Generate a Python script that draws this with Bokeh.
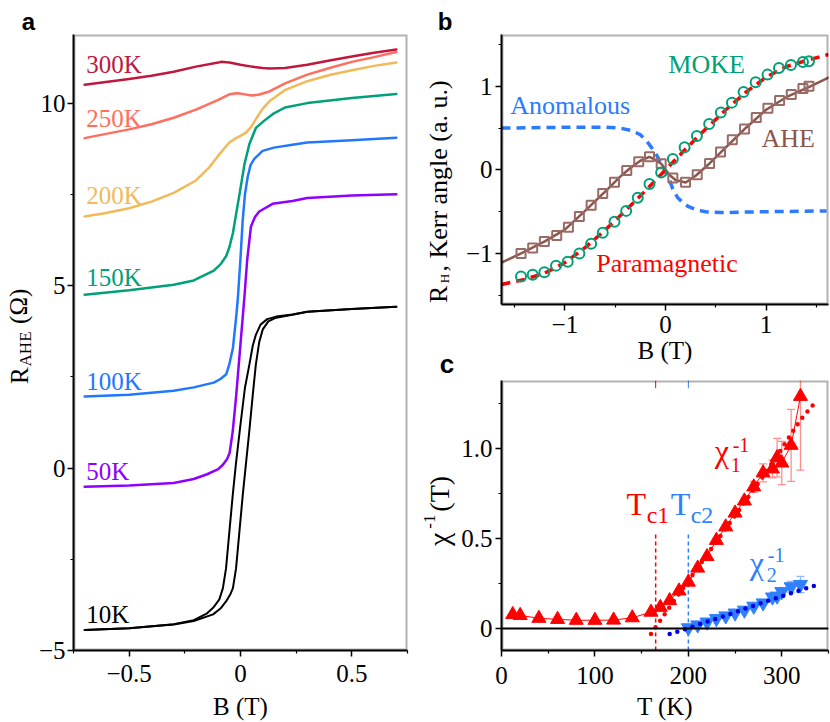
from bokeh.plotting import figure
from bokeh.models import (Label, Span, Whisker, TeeHead, ColumnDataSource, FixedTicker,
                          CustomJSTickFormatter, Range1d, BoxAnnotation)
from bokeh.layouts import row, column
from bokeh.embed import file_html
from bokeh.resources import INLINE

SERIF = "Liberation Serif"
SANS = "Liberation Sans"

# ---------------- panel a data : R_AHE vs B ----------------
B_300 = [-0.70, -0.50, -0.40, -0.30, -0.20, -0.10, -0.088, -0.05, 0.00, 0.05, 0.10, 0.13, 0.20, 0.30, 0.40, 0.50, 0.60, 0.70]
R_300 = [10.50, 10.66, 10.75, 10.86, 11.00, 11.11, 11.13, 11.11, 11.05, 11.00, 10.96, 10.95, 10.96, 11.05, 11.17, 11.28, 11.38, 11.47]
B_250 = [-0.70, -0.61, -0.50, -0.40, -0.30, -0.20, -0.10, -0.05, -0.02, 0.00, 0.05, 0.08, 0.13, 0.20, 0.30, 0.40, 0.50, 0.60, 0.70]
R_250 = [9.04, 9.15, 9.28, 9.42, 9.60, 9.82, 10.09, 10.24, 10.27, 10.26, 10.21, 10.23, 10.32, 10.54, 10.78, 10.96, 11.13, 11.26, 11.40]
B_200 = [-0.70, -0.61, -0.50, -0.40, -0.30, -0.20, -0.14, -0.10, -0.05, -0.02, 0.00, 0.025, 0.05, 0.077, 0.10, 0.13, 0.20, 0.30, 0.40, 0.50, 0.60, 0.70]
R_200 = [6.89, 6.98, 7.12, 7.30, 7.54, 7.88, 8.24, 8.56, 8.92, 9.04, 9.10, 9.19, 9.37, 9.64, 9.85, 10.05, 10.36, 10.60, 10.77, 10.90, 11.02, 11.11]
B_150 = [-0.70, -0.50, -0.30, -0.21, -0.12, -0.09, -0.064, -0.05, -0.034, -0.02, -0.004, 0.018, 0.040, 0.069, 0.107, 0.15, 0.20, 0.30, 0.50, 0.70]
R_150 = [4.75, 4.87, 5.02, 5.14, 5.41, 5.58, 5.81, 6.05, 6.44, 6.95, 7.52, 8.33, 8.88, 9.32, 9.52, 9.72, 9.88, 10.00, 10.14, 10.25]
B_100 = [-0.70, -0.50, -0.30, -0.21, -0.12, -0.09, -0.064, -0.05, -0.034, -0.02, -0.012, 0.000, 0.010, 0.020, 0.032, 0.045, 0.062, 0.099, 0.15, 0.233, 0.30, 0.50, 0.70]
R_100 = [1.96, 2.01, 2.12, 2.21, 2.34, 2.44, 2.57, 2.85, 3.29, 4.10, 4.64, 5.75, 6.80, 7.50, 7.97, 8.30, 8.47, 8.69, 8.78, 8.86, 8.92, 8.98, 9.05]
B_50 = [-0.70, -0.50, -0.30, -0.21, -0.15, -0.10, -0.079, -0.06, -0.049, -0.035, -0.020, 0.000, 0.017, 0.030, 0.047, 0.065, 0.084, 0.144, 0.233, 0.30, 0.50, 0.70]
R_50 = [-0.51, -0.48, -0.41, -0.30, -0.17, -0.03, 0.09, 0.25, 0.41, 1.00, 1.94, 3.40, 4.64, 5.70, 6.62, 6.88, 7.03, 7.24, 7.32, 7.40, 7.47, 7.50]
B_10_up = [-0.70, -0.50, -0.30, -0.21, -0.15, -0.123, -0.095, -0.079, -0.065, -0.05, -0.035, -0.02, 0.00, 0.02, 0.04, 0.055, 0.069, 0.09, 0.12, 0.16, 0.233, 0.30, 0.50, 0.70]
R_10_up = [-4.44, -4.39, -4.28, -4.17, -3.98, -3.83, -3.60, -3.29, -2.75, -1.75, -0.75, 0.15, 1.20, 2.20, 2.84, 3.35, 3.65, 3.93, 4.08, 4.15, 4.21, 4.28, 4.36, 4.42]
B_10_dn = [-0.70, -0.50, -0.30, -0.21, -0.123, -0.09, -0.064, -0.045, -0.034, -0.02, -0.005, 0.01, 0.025, 0.04, 0.055, 0.069, 0.084, 0.10, 0.125, 0.16, 0.233, 0.30, 0.50, 0.70]
R_10_dn = [-4.44, -4.39, -4.29, -4.19, -4.01, -3.85, -3.65, -3.45, -3.29, -2.75, -1.75, -0.75, 0.15, 1.04, 2.00, 2.84, 3.45, 3.80, 4.02, 4.12, 4.20, 4.28, 4.36, 4.42]

a_xticks = [-0.5, 0.0, 0.5]
a_xlabels = ["\u22120.5", "0", "0.5"]
a_xminor = [-0.75, -0.25, 0.25, 0.75]
a_yticks = [-5, 0, 5, 10]
a_ylabels = ["\u22125", "0", "5", "10"]
a_yminor = [-2.5, 2.5, 7.5]

# ---------------- panel b data ----------------
moke_B = [-1.436, -1.32, -1.204, -1.088, -0.972, -0.856, -0.739, -0.624, -0.507, -0.391, -0.276, -0.159, -0.043,
          0.073, 0.19, 0.312, 0.434, 0.55, 0.66, 0.776, 0.896, 1.014, 1.128, 1.247, 1.366, 1.426]
moke_y = [-1.274, -1.255, -1.224, -1.145, -1.098, -1.0, -0.882, -0.753, -0.62, -0.49, -0.333, -0.168, -0.03,
          0.13, 0.27, 0.405, 0.549, 0.686, 0.805, 0.933, 1.05, 1.14, 1.22, 1.255, 1.29, 1.30]
ahe_B = [-1.436, -1.32, -1.204, -1.081, -0.965, -0.856, -0.739, -0.624, -0.507, -0.385, -0.266, -0.159, -0.043,
         0.073, 0.199, 0.315, 0.438, 0.547, 0.664, 0.786, 0.902, 1.018, 1.134, 1.25, 1.366, 1.426]
ahe_y = [-1.0, -0.933, -0.855, -0.784, -0.686, -0.557, -0.424, -0.282, -0.149, -0.008, 0.098, 0.157, 0.075,
         -0.098, -0.149, -0.059, 0.078, 0.215, 0.361, 0.49, 0.627, 0.737, 0.831, 0.902, 0.973, 1.0]
ahefit_B = [-1.63, -1.44, -1.2, -1.0, -0.8, -0.6, -0.45, -0.35, -0.25, -0.16, -0.1, -0.04, 0.04, 0.1, 0.2, 0.3, 0.44, 0.6, 0.8, 1.0, 1.2, 1.44, 1.63]
ahefit_y = [-1.11, -1.0, -0.855, -0.715, -0.49, -0.26, -0.08, 0.023, 0.11, 0.155, 0.12, 0.07, -0.06, -0.12, -0.15, -0.07, 0.08, 0.27, 0.505, 0.72, 0.87, 1.0, 1.11]
para_B = [-1.63, -1.4, -1.2, -1.0, -0.8, -0.6, -0.4, -0.2, 0.0, 0.2, 0.4, 0.6, 0.8, 1.0, 1.2, 1.4, 1.62]
para_y = [-1.37, -1.31, -1.235, -1.11, -0.93, -0.72, -0.49, -0.25, 0.0, 0.25, 0.49, 0.72, 0.93, 1.11, 1.235, 1.31, 1.38]
anom_B = [-1.63, -1.0, -0.6, -0.45, -0.33, -0.25, -0.19, -0.14, -0.09, -0.05, -0.01, 0.03, 0.07, 0.12, 0.17, 0.23, 0.31, 0.4, 0.55, 1.0, 1.6]
anom_y = [0.50, 0.51, 0.51, 0.50, 0.47, 0.42, 0.35, 0.27, 0.18, 0.09, 0.0, -0.09, -0.22, -0.33, -0.39, -0.44, -0.48, -0.50, -0.51, -0.50, -0.49]

b_xticks = [-1, 0, 1]
b_xlabels = ["\u22121", "0", "1"]
b_xminor = [-1.5, -0.5, 0.5, 1.5]
b_yticks = [-1, 0, 1]
b_ylabels = ["\u22121", "0", "1"]
b_yminor = [-1.5, -0.5, 0.5, 1.5]

# ---------------- panel c data ----------------
T1 = [12, 20, 40, 60, 80, 100, 120, 140, 160, 170, 180, 190, 200, 210, 220, 230, 240, 250, 260, 270, 280, 290, 295, 300, 310, 320]
chi1 = [0.078, 0.073, 0.057, 0.051, 0.046, 0.046, 0.047, 0.06, 0.091, 0.118, 0.155, 0.209, 0.258, 0.336, 0.40, 0.49,
        0.565, 0.642, 0.709, 0.787, 0.865, 0.887, 0.95, 0.92, 1.018, 1.29]
chi1_err = [0.0, 0.0, 0.0, 0.0, 0.0, 0.0, 0.0, 0.0, 0.005, 0.005, 0.005, 0.008, 0.008, 0.01, 0.01, 0.01,
            0.012, 0.015, 0.02, 0.03, 0.05, 0.05, 0.107, 0.12, 0.20, 0.41]
T2 = [200, 210, 220, 230, 240, 250, 260, 270, 280, 290, 295, 300, 310, 320]
chi2 = [0.004, 0.02, 0.036, 0.055, 0.07, 0.086, 0.102, 0.124, 0.142, 0.175, 0.18, 0.205, 0.232, 0.245]
chi2_err = [0.0, 0.0, 0.0, 0.0, 0.005, 0.005, 0.005, 0.008, 0.01, 0.012, 0.012, 0.015, 0.03, 0.045]
fit1_T = [160, 180, 200, 220, 240, 260, 280, 300, 320, 338]
fit1_v = [-0.03, 0.12, 0.265, 0.41, 0.555, 0.70, 0.845, 1.0, 1.16, 1.27]
fit2_T = [180, 200, 220, 240, 260, 280, 300, 320, 340]
fit2_v = [-0.031, 0.002, 0.038, 0.072, 0.109, 0.145, 0.18, 0.214, 0.245]
Tc1 = 165
Tc2 = 200
tc_line_top = 0.535

c_xticks = [0, 100, 200, 300]
c_xlabels = ["0", "100", "200", "300"]
c_xminor = [50, 150, 250, 350]
c_yticks = [0, 0.5, 1.0]
c_ylabels = ["0", "0.5", "1.0"]
c_yminor = [0.25, 0.75, 1.25]

# colours
C300, C250, C200, C150, C100, C50, C10 = "#c0183c", "#ff6e5e", "#f2b95a", "#00a07a", "#2277ff", "#9000ff", "#000000"
GREEN, BROWN, BLUE_B, RED = "#00a077", "#8c564b", "#2b7bff", "#ff0000"
BLUE_C, DBLUE = "#2f80ff", "#0000e0"

ROT = 1.5707963267948966


def fmt(vals, labs):
    return CustomJSTickFormatter(args=dict(vals=vals, labs=labs), code="""
        for (let i = 0; i < vals.length; i++) {
            if (Math.abs(vals[i] - tick) < 1e-6) { return labs[i]; }
        }
        return "";
    """)


def style(p, xt, xl, xm, yt, yl, ym, xr, yr, xstand, ystand, xlab, xlab_stand):
    p.xgrid.visible = False
    p.ygrid.visible = False
    p.outline_line_color = None
    p.background_fill_color = "white"
    p.border_fill_color = "white"
    p.xaxis.ticker = FixedTicker(ticks=xt, minor_ticks=xm)
    p.yaxis.ticker = FixedTicker(ticks=yt, minor_ticks=ym)
    p.xaxis.formatter = fmt(xt, xl)
    p.yaxis.formatter = fmt(yt, yl)
    for ax in p.axis:
        ax.axis_line_width = 2
        ax.major_tick_out = 6
        ax.major_tick_in = 0
        ax.minor_tick_out = 3
        ax.minor_tick_in = 0
        ax.major_tick_line_width = 1.5
        ax.minor_tick_line_width = 1.2
        ax.major_label_text_font = SERIF
        ax.major_label_text_font_size = "25px"
        ax.major_label_text_color = "black"
    p.xaxis.major_label_standoff = xstand
    p.yaxis.major_label_standoff = ystand
    p.xaxis.axis_label = xlab
    p.xaxis.axis_label_standoff = xlab_stand
    p.xaxis.axis_label_text_font = SERIF
    p.xaxis.axis_label_text_font_size = "25px"
    p.xaxis.axis_label_text_font_style = "normal"
    p.xaxis.axis_label_text_color = "black"
    # closed frame box
    p.add_layout(BoxAnnotation(left=xr[0], right=xr[1], bottom=yr[0], top=yr[1],
                               fill_alpha=0, line_color="black", line_width=4))


def mapper(x0, x1, y0, y1, fl, ft, fw, fh):
    # reference-picture pixel -> data coordinates of a panel
    def f(px, py):
        return x0 + (px - fl) / fw * (x1 - x0), y1 - (py - ft) / fh * (y1 - y0)
    return f


def add_text(p, m, px, py, text, size, color="black", font=SERIF, align="left", angle=0.0, style_="normal"):
    x, y = m(px, py)
    p.add_layout(Label(x=x, y=y, text=text, text_font=font, text_font_size=f"{size}px",
                       text_color=color, text_align=align, text_baseline="middle",
                       angle=angle, text_font_style=style_))


def text_fig(x0, x1, y0, y1, bottom=0):
    # strip whose data coordinates are page pixels (y downwards); frame = [y0, y1]
    p = figure(width=x1 - x0, height=y1 - y0 + bottom, x_range=Range1d(x0, x1), y_range=Range1d(y1, y0),
               output_backend="svg", toolbar_location=None, x_axis_location=None, y_axis_location=None,
               min_border=0, min_border_left=0, min_border_right=0, min_border_top=0, min_border_bottom=bottom)
    p.outline_line_color = None
    p.background_fill_color = "white"
    p.border_fill_color = "white"
    p.xgrid.visible = False
    p.ygrid.visible = False
    return p


page = lambda px, py: (px, py)
TOP = 34          # height of the strip holding the panel letters
BOT = 67          # bottom border of panels a and c
SPLIT = 418       # x where the b/c title strip begins

# ---------- top strip: panel letters a and b ----------
top = text_fig(0, 830, 0, TOP)
add_text(top, page, 28, 20.5, "a", 24, font=SANS, align="center", style_="bold")
add_text(top, page, 444.5, 20.5, "b", 24, font=SANS, align="center", style_="bold")

# ================= panel a =================
ax_r = (-0.75, 0.75)
ay_r = (-5.0, 11.88)
pa = figure(width=SPLIT - 35, height=722 - TOP, x_range=Range1d(*ax_r), y_range=Range1d(*ay_r),
            output_backend="svg", toolbar_location=None,
            min_border_left=34, min_border_right=SPLIT - 35 - 34 - 338, min_border_top=0, min_border_bottom=BOT)
style(pa, a_xticks, a_xlabels, a_xminor, a_yticks, a_ylabels, a_yminor, ax_r, ay_r, 8, 2, "B (T)", 8)
curves = [(B_300, R_300, C300, 2.5), (B_250, R_250, C250, 2.5), (B_200, R_200, C200, 2.5),
          (B_150, R_150, C150, 2.5), (B_100, R_100, C100, 2.5), (B_50, R_50, C50, 2.5),
          (B_10_up, R_10_up, C10, 2.0), (B_10_dn, R_10_dn, C10, 2.0)]
for bx, ry, col, lw in curves:
    pa.line(bx, ry, line_color=col, line_width=lw, line_join="round", line_cap="round")

ma = mapper(ax_r[0], ax_r[1], ay_r[0], ay_r[1], 69, 32, 338, 624)
for txt, py, col in [("300K", 62.5, C300), ("250K", 117, C250), ("200K", 195.5, C200), ("150K", 278.5, C150),
                     ("100K", 383.5, C100), ("50K", 474.5, C50), ("10K", 620, C10)]:
    add_text(pa, ma, 82, py, txt, 25, color=col)

# left strip of panel a: y-axis title
la = text_fig(0, 35, TOP, 722 - BOT, bottom=BOT)
add_text(la, page, 18.5, 378, "R", 25, align="center", angle=ROT)
add_text(la, page, 25.3, 351, "AHE", 17, align="center", angle=ROT)
add_text(la, page, 17.5, 308, "(\u03a9)", 25, align="center", angle=ROT)

# ================= panel b =================
bx_r = (-1.63, 1.62)
by_r = (-1.61, 1.62)
pb = figure(width=372, height=366 - TOP, x_range=Range1d(*bx_r), y_range=Range1d(*by_r),
            output_backend="svg", toolbar_location=None,
            min_border_left=43, min_border_right=2, min_border_top=0, min_border_bottom=59)
style(pb, b_xticks, b_xlabels, b_xminor, b_yticks, b_ylabels, b_yminor, bx_r, by_r, 5, 3, "B (T)", 1)
pb.line(anom_B, anom_y, line_color=BLUE_B, line_width=3.5, line_dash="9 6")
pb.line(ahefit_B, ahefit_y, line_color=BROWN, line_width=2.5, line_join="round")
pb.scatter(ahe_B, ahe_y, marker="square", size=9, fill_color=None, line_color="#9a6a66", line_width=2)
pb.line(para_B, para_y, line_color=RED, line_width=3.5, line_dash="9 6")
pb.scatter(moke_B, moke_y, marker="circle", size=10, fill_color=None, line_color=GREEN, line_width=2)

mb = mapper(bx_r[0], bx_r[1], by_r[0], by_r[1], 502.3, 32, 326.7, 274.7)
add_text(pb, mb, 669, 62.5, "MOKE", 26, color=GREEN)
add_text(pb, mb, 511, 104, "Anomalous", 26, color=BLUE_B)
add_text(pb, mb, 762, 137.5, "AHE", 26, color=BROWN)
add_text(pb, mb, 597, 265, "Paramagnetic", 26, color=RED)

# ================= panel c =================
cx_r = (0, 350)
cy_r = (-0.122, 1.378)
pc = figure(width=372, height=356, x_range=Range1d(*cx_r), y_range=Range1d(*cy_r),
            output_backend="svg", toolbar_location=None,
            min_border_left=43, min_border_right=2, min_border_top=14, min_border_bottom=BOT)
style(pc, c_xticks, c_xlabels, c_xminor, c_yticks, c_ylabels, c_yminor, cx_r, cy_r, 10, 3, "T (K)", 6)
pc.add_layout(Span(location=0, dimension="width", line_color="black", line_width=2))
pc.segment(x0=[Tc1], y0=[cy_r[0]], x1=[Tc1], y1=[tc_line_top], line_color=RED, line_width=1.5, line_dash="4 3")
pc.segment(x0=[Tc2], y0=[cy_r[0]], x1=[Tc2], y1=[tc_line_top], line_color=BLUE_C, line_width=1.5, line_dash="4 3")
pc.segment(x0=[Tc1, Tc2], y0=[1.335, 1.335], x1=[Tc1, Tc2], y1=[cy_r[1], cy_r[1]],
           line_color=[RED, BLUE_C], line_width=1)

src1 = ColumnDataSource(dict(T=T1, v=chi1, lo=[a - e for a, e in zip(chi1, chi1_err)],
                             hi=[a + e for a, e in zip(chi1, chi1_err)]))
src2 = ColumnDataSource(dict(T=T2, v=chi2, lo=[a - e for a, e in zip(chi2, chi2_err)],
                             hi=[a + e for a, e in zip(chi2, chi2_err)]))
pc.add_layout(Whisker(source=src1, base="T", lower="lo", upper="hi", line_color="#ff8f8f", line_width=1.3,
                      upper_head=TeeHead(size=8, line_color="#ff8f8f", line_width=1.3),
                      lower_head=TeeHead(size=8, line_color="#ff8f8f", line_width=1.3)))
pc.add_layout(Whisker(source=src2, base="T", lower="lo", upper="hi", line_color="#8fb8ff", line_width=1.3,
                      upper_head=TeeHead(size=8, line_color="#8fb8ff", line_width=1.3),
                      lower_head=TeeHead(size=8, line_color="#8fb8ff", line_width=1.3)))
pc.line("T", "v", source=src1, line_color=RED, line_width=1)
pc.line("T", "v", source=src2, line_color=BLUE_C, line_width=1)
pc.scatter("T", "v", source=src1, marker="triangle", size=14, color=RED)
pc.scatter("T", "v", source=src2, marker="inverted_triangle", size=14, color=BLUE_C)
pc.line(fit1_T, fit1_v, line_color=RED, line_width=4.5, line_dash="0 8", line_cap="round")
pc.line(fit2_T, fit2_v, line_color=DBLUE, line_width=4.5, line_dash="0 8", line_cap="round")

mc = mapper(cx_r[0], cx_r[1], cy_r[0], cy_r[1], 500, 380, 326.7, 275)
add_text(pc, mc, 625, 506, "T", 32, color=RED)
add_text(pc, mc, 645, 516.5, "c1", 24, color=RED)
add_text(pc, mc, 669, 506, "T", 32, color=BLUE_C)
add_text(pc, mc, 689, 516.5, "c2", 24, color=BLUE_C)
add_text(pc, mc, 713, 451.5, "\u03c7", 32, color=RED)
add_text(pc, mc, 729, 466, "1", 20, color=RED)
add_text(pc, mc, 731, 445.5, "-1", 20, color=RED)
add_text(pc, mc, 748, 565.5, "\u03c7", 32, color=BLUE_C)
add_text(pc, mc, 765, 578.5, "2", 20, color=BLUE_C)
add_text(pc, mc, 766, 557.5, "-1", 20, color=BLUE_C)

# strip between panel a and panels b/c: y-axis titles of b and c, letter c
lbc = text_fig(SPLIT, 458, TOP, 722 - BOT, bottom=BOT)
add_text(lbc, page, 438.2, 296, "R", 26, align="center", angle=ROT)
add_text(lbc, page, 443.6, 280, "H", 13, align="center", angle=ROT)
add_text(lbc, page, 438.2, 273, ", Kerr angle (a. u.)", 26, align="left", angle=ROT)
add_text(lbc, page, 446.5, 366.2, "c", 26, font=SANS, align="center", style_="bold")
add_text(lbc, page, 438.3, 543, "\u03c7", 30, align="center", angle=ROT)
add_text(lbc, page, 429.2, 525, "-1", 17, align="center", angle=ROT)
add_text(lbc, page, 438.5, 497, "(T)", 28, align="center", angle=ROT)

layout = column(top, row(la, pa, lbc, column(pb, pc)))
open("out.html", "w").write(file_html(layout, INLINE))
